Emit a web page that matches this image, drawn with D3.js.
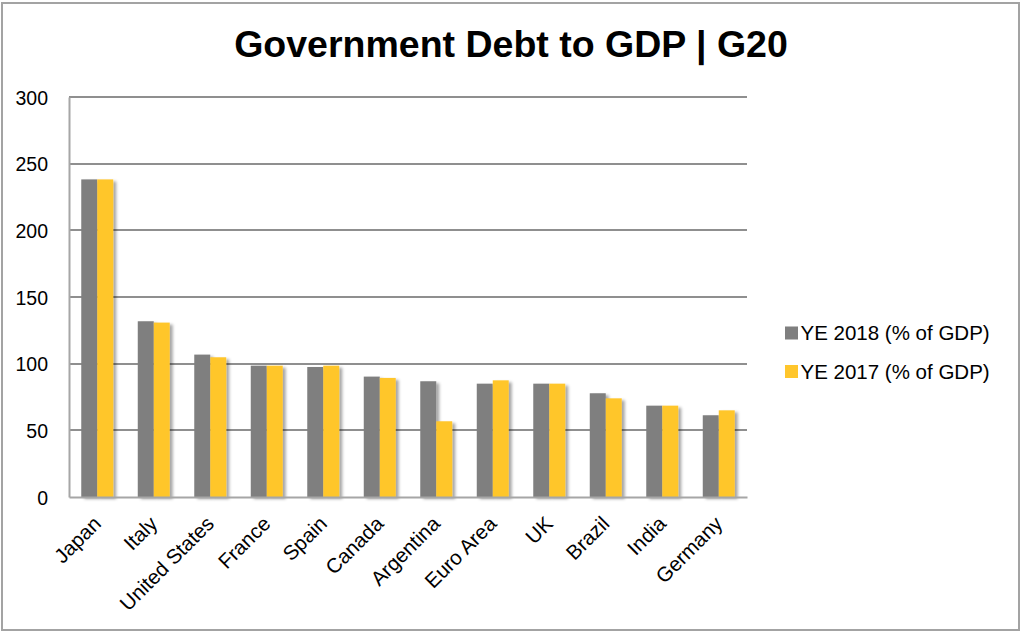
<!DOCTYPE html>
<meta charset="utf-8">
<head>
<style>
body { margin: 0; background: #fff; }
text { font-family: "Liberation Sans", Arial, sans-serif; fill: #000; }
.grid line { stroke: #8f8f8f; stroke-width: 2px; shape-rendering: crispEdges; }
.axis path, .axis line { stroke: #a6a6a6; }
</style>
<script src="https://d3js.org/d3.v7.min.js"></script>
</head>
<body>
<svg id="chart" width="1024" height="632"></svg>
<script>

// data
var countries = ["Japan", "Italy", "United States", "France", "Spain", "Canada",
                 "Argentina", "Euro Area", "UK", "Brazil", "India", "Germany"];
var ye2018 = [238.2, 131.8, 106.8, 98.5, 97.5, 90.3, 86.8, 85.0, 85.0, 77.8, 68.5, 61.3];
var ye2017 = [238.2, 130.8, 104.8, 98.5, 98.5, 89.3, 56.8, 87.5, 85.0, 74.0, 68.5, 65.0];
var seriesNames = ["YE 2018 (% of GDP)", "YE 2017 (% of GDP)"];
var yTicks = [0, 50, 100, 150, 200, 250, 300];

var colors = ["#7f7f7f", "#ffc62c"];

var svg = d3.select("#chart"),
    margin = {top: 97, right: 277, bottom: 135, left: 69},
    width = +svg.attr("width") - margin.left - margin.right,
    height = +svg.attr("height") - margin.top - margin.bottom;

// outer frame
svg.append("rect")
    .attr("x", 2).attr("y", 3)
    .attr("width", 1017).attr("height", 627)
    .attr("fill", "#fff")
    .attr("stroke", "#a3a3a3")
    .attr("stroke-width", 2);

var defs = svg.append("defs");
defs.append("filter")
    .attr("id", "shadow")
    .attr("x", "-30%").attr("y", "-10%")
    .attr("width", "170%").attr("height", "130%")
  .append("feDropShadow")
    .attr("dx", 3).attr("dy", 2)
    .attr("stdDeviation", 1.8)
    .attr("flood-color", "#000")
    .attr("flood-opacity", 0.35);

svg.append("text")
    .attr("x", 511)
    .attr("y", 57)
    .attr("text-anchor", "middle")
    .style("font-size", "37.5px")
    .style("font-weight", "bold")
    .text("Government Debt to GDP | G20");

var g = svg.append("g")
    .attr("transform", "translate(" + margin.left + "," + margin.top + ")");

var x0 = d3.scaleBand()
    .domain(countries)
    .range([0, width])
    .paddingInner(0.434)
    .paddingOuter(0.217);

var x1 = d3.scaleBand()
    .domain([0, 1])
    .range([0, x0.bandwidth()]);

var y = d3.scaleLinear()
    .domain([0, 300])
    .range([height, 0]);

// gridlines
g.append("g")
    .attr("class", "grid")
    .selectAll("line")
    .data(yTicks.filter(function(t){ return t > 0; }))
    .enter().append("line")
      .attr("x1", 0)
      .attr("x2", width)
      .attr("y1", function(d){ return y(d); })
      .attr("y2", function(d){ return y(d); });

// bars
var rows = countries.map(function(c, i){
  return {country: c, vals: [ye2018[i], ye2017[i]]};
});

var groups = g.selectAll(".grp")
    .data(rows)
    .enter().append("g")
      .attr("class", "grp")
      .attr("transform", function(d){ return "translate(" + x0(d.country) + ",0)"; });

groups.selectAll("rect")
    .data(function(d){ return d.vals.map(function(v, k){ return {k: k, v: v}; }); })
    .enter().append("rect")
      .attr("x", function(d){ return x1(d.k); })
      .attr("width", x1.bandwidth())
      .attr("y", function(d){ return y(d.v); })
      .attr("height", function(d){ return height - y(d.v); })
      .attr("fill", function(d){ return colors[d.k]; })
      .attr("filter", "url(#shadow)");

// y axis
var yAxis = g.append("g")
    .attr("class", "axis")
    .call(d3.axisLeft(y).tickValues(yTicks).tickSize(0).tickPadding(21));
yAxis.select(".domain").attr("stroke-width", 2);
yAxis.selectAll("text")
    .style("font-size", "19.5px")
    .attr("dy", "0.36em");

// x axis
var xAxis = g.append("g")
    .attr("class", "axis")
    .attr("transform", "translate(0," + height + ")")
    .call(d3.axisBottom(x0).tickSize(0).tickPadding(0));
xAxis.select(".domain").attr("stroke-width", 2);
xAxis.selectAll("text")
    .style("font-size", "20.5px")
    .attr("text-anchor", "end")
    .attr("dy", null)
    .attr("y", 0)
    .attr("transform", "translate(5,28) rotate(-45)");

// legend
var legend = svg.append("g")
    .attr("transform", "translate(785,333)");

var items = legend.selectAll(".item")
    .data(seriesNames)
    .enter().append("g")
      .attr("transform", function(d, i){ return "translate(0," + (i * 38.5) + ")"; });

items.append("rect")
    .attr("x", 0).attr("y", -6.5)
    .attr("width", 13).attr("height", 13)
    .attr("fill", function(d, i){ return colors[i]; });

items.append("text")
    .attr("x", 15.5)
    .attr("y", 0)
    .attr("dy", "0.36em")
    .style("font-size", "20.5px")
    .text(function(d){ return d; });

</script>
</body>
